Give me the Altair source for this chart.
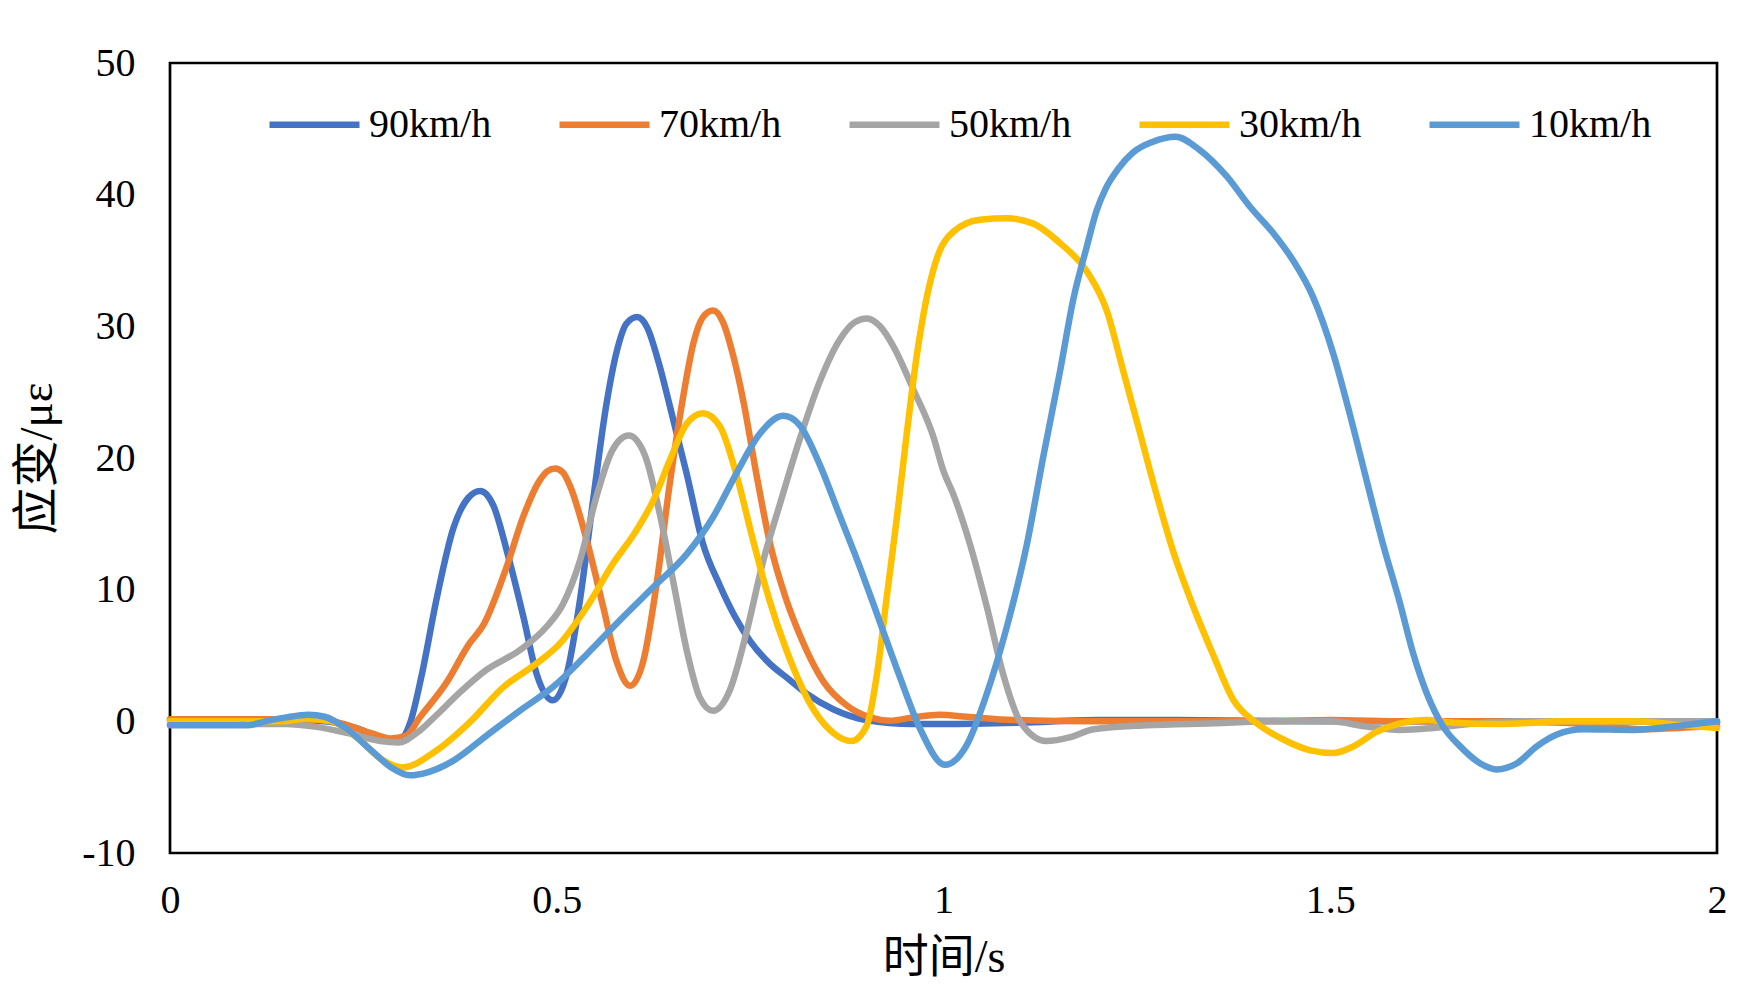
import altair as alt
import pandas as pd

names = ["90km/h", "70km/h", "50km/h", "30km/h", "10km/h"]
colors = ["#4472C4", "#ED7D31", "#A5A5A5", "#FFC000", "#5B9BD5"]

t90 = [0, 0.05, 0.1, 0.15, 0.2, 0.24, 0.27, 0.29, 0.30, 0.31, 0.325, 0.345, 0.366, 0.386, 0.401,
       0.418, 0.437, 0.457, 0.474, 0.495, 0.513, 0.530, 0.547, 0.564, 0.578, 0.59, 0.604, 0.617,
       0.632, 0.646, 0.668, 0.689, 0.711, 0.73, 0.75, 0.775, 0.80, 0.823, 0.858, 0.9, 0.96, 1.0,
       1.1, 1.2, 1.3, 1.4, 1.5, 1.6, 1.7, 1.8, 1.9, 2.0]
v90 = [0.1, 0.1, 0.1, 0.1, 0.0, -0.5, -1.2, -1.5, -1.3, -0.2, 3.4, 9.4, 14.6, 17.0, 17.5,
       16.4, 12.6, 7.9, 3.6, 1.6, 3.6, 9.2, 16.8, 24.0, 28.2, 30.2, 30.7, 29.9,
       27.2, 24.0, 18.8, 13.5, 10.3, 8.0, 6.1, 4.4, 3.2, 2.1, 0.9, 0.1, -0.2, -0.2,
       -0.1, 0.1, 0.1, 0.05, 0.0, 0.0, 0.0, 0.0, 0.0, -0.1]

t70 = [0, 0.1, 0.15, 0.2, 0.23, 0.26, 0.285, 0.305, 0.323, 0.357, 0.387, 0.405, 0.435, 0.457,
       0.478, 0.488, 0.498, 0.508, 0.517, 0.539, 0.560, 0.577, 0.595, 0.612, 0.629, 0.646, 0.663,
       0.677, 0.689, 0.702, 0.715, 0.728, 0.741, 0.758, 0.775, 0.797, 0.814, 0.845, 0.875, 0.905,
       0.931, 0.961, 0.995, 1.03, 1.09, 1.2, 1.3, 1.4, 1.5, 1.6, 1.7, 1.8, 1.85, 1.9, 1.95, 2.0]
v70 = [0.15, 0.15, 0.15, 0.1, -0.3, -0.9, -1.3, -1.1, 0.3, 2.9, 5.9, 7.3, 11.7, 15.6,
       18.3, 19.0, 19.2, 18.9, 17.9, 13.7, 8.7, 4.6, 2.7, 4.6, 10.4, 18.0, 24.5,
       28.8, 30.7, 31.2, 30.3, 27.8, 24.4, 18.8, 13.7, 9.2, 6.6, 3.0, 1.2, 0.3,
       0.05, 0.3, 0.5, 0.35, 0.1, 0.0, 0.0, 0.0, 0.1, 0.0, 0.0, -0.1, -0.3, -0.6, -0.5, -0.3]

t50 = [0, 0.1, 0.15, 0.187, 0.23, 0.272, 0.295, 0.323, 0.345, 0.373, 0.409, 0.452, 0.487, 0.508,
       0.530, 0.551, 0.572, 0.593, 0.614, 0.633, 0.651, 0.668, 0.685, 0.702, 0.724, 0.745, 0.767,
       0.788, 0.814, 0.840, 0.866, 0.885, 0.901, 0.918, 0.935, 0.961, 0.987, 1.0, 1.013, 1.034,
       1.056, 1.077, 1.099, 1.133, 1.164, 1.194, 1.263, 1.35, 1.42, 1.5, 1.547, 1.59, 1.633, 1.68,
       1.75, 1.85, 1.95, 2.0]
v50 = [-0.2, -0.2, -0.2, -0.4, -0.9, -1.5, -1.6, -0.7, 0.5, 2.1, 3.9, 5.4, 7.2, 8.9,
       12.2, 17.0, 20.6, 21.7, 20.2, 15.8, 10.5, 5.4, 1.8, 0.8, 2.4, 6.7, 12.2,
       16.4, 21.4, 25.8, 29.0, 30.3, 30.6, 30.0, 28.5, 25.2, 21.6, 19.0, 17.2, 13.5,
       8.7, 3.6, 0.0, -1.5, -1.2, -0.6, -0.3, -0.15, 0.0, 0.0, -0.4, -0.65, -0.5, -0.2,
       0.0, 0.0, 0.0, 0.0]

t30 = [0, 0.1, 0.144, 0.175, 0.209, 0.243, 0.274, 0.30, 0.345, 0.387, 0.431, 0.474, 0.504, 0.539,
       0.573, 0.603, 0.625, 0.646, 0.668, 0.689, 0.711, 0.732, 0.754, 0.775, 0.797, 0.832, 0.858,
       0.881, 0.901, 0.914, 0.927, 0.94, 0.952, 0.965, 0.978, 0.991, 1.013, 1.047, 1.082, 1.116,
       1.151, 1.185, 1.211, 1.232, 1.254, 1.276, 1.297, 1.323, 1.349, 1.375, 1.405, 1.44, 1.474,
       1.504, 1.53, 1.56, 1.59, 1.625, 1.659, 1.719, 1.806, 1.892, 1.957, 2.0]
v30 = [0.0, 0.0, 0.0, 0.2, 0.0, -1.3, -2.9, -3.5, -2.2, -0.1, 2.6, 4.4, 5.9, 8.7,
       12.0, 14.5, 16.8, 19.8, 22.6, 23.4, 22.4, 18.8, 13.7, 9.2, 5.4, 0.9, -0.9,
       -1.5, -0.3, 3.6, 9.6, 15.6, 21.6, 27.6, 32.1, 35.1, 37.2, 38.1, 38.2, 37.8,
       36.3, 34.2, 31.2, 26.7, 21.9, 17.1, 12.9, 8.7, 5.0, 1.6, -0.15, -1.4, -2.2,
       -2.4, -1.9, -0.8, -0.15, 0.1, -0.1, -0.2, 0.0, 0.0, -0.3, -0.5]

t10 = [0, 0.05, 0.1, 0.123, 0.15, 0.179, 0.2, 0.23, 0.26, 0.286, 0.31, 0.334, 0.366, 0.409, 0.452,
       0.495, 0.539, 0.582, 0.625, 0.668, 0.702, 0.732, 0.762, 0.793, 0.814, 0.84, 0.866, 0.892,
       0.918, 0.944, 0.97, 1.002, 1.03, 1.056, 1.082, 1.108, 1.129, 1.151, 1.168, 1.185, 1.198,
       1.21, 1.225, 1.245, 1.27, 1.30, 1.331, 1.366, 1.396, 1.426, 1.452, 1.478, 1.504, 1.525,
       1.547, 1.568, 1.590, 1.607, 1.625, 1.646, 1.668, 1.694, 1.715, 1.741, 1.767, 1.793, 1.827,
       1.892, 1.957, 2.0]
v10 = [-0.3, -0.3, -0.3, 0.0, 0.3, 0.5, 0.35, -0.65, -2.2, -3.5, -4.1, -3.85, -3.0, -1.1, 0.8,
       2.6, 5.1, 7.7, 10.2, 12.7, 15.5, 18.8, 21.8, 23.2, 22.5, 19.5, 15.6, 11.7,
       7.5, 3.3, -0.6, -3.3, -1.8, 2.1, 7.2, 13.5, 20.1, 26.7, 32.1, 36.0, 38.8,
       40.5, 41.9, 43.2, 44.0, 44.4, 43.4, 41.4, 39.1, 37.1, 35.0, 32.2, 27.9, 23.4,
       18.3, 13.5, 9.0, 5.2, 2.1, -0.4, -1.9, -3.2, -3.65, -3.2, -1.9, -1.0, -0.6,
       -0.65, -0.3, 0.0]

series_t = [t90, t70, t50, t30, t10]
series_v = [v90, v70, v50, v30, v10]

rows = []
for name, ts, vs in zip(names, series_t, series_v):
    for t, v in zip(ts, vs):
        rows.append({"series": name, "t": t, "v": v})
df = pd.DataFrame(rows)

x_ticks = [0, 0.5, 1, 1.5, 2]
y_ticks = [-10, 0, 10, 20, 30, 40, 50]

FONT = "Liberation Serif, Times New Roman, serif"
TFONT = "Liberation Serif, 'Noto Sans CJK SC', serif"

chart = alt.Chart(df).mark_line(
    interpolate="monotone", strokeWidth=6.5, strokeCap="round", strokeJoin="round"
).encode(
    x=alt.X("t:Q", scale=alt.Scale(domain=[0, 2], nice=False),
            axis=alt.Axis(values=x_ticks, title="时间/s", labelExpr="'' + datum.value",
                          grid=False, ticks=False, tickSize=0, domain=False, labelFlush=False,
                          labelFont=FONT, labelFontSize=40, labelColor="black",
                          labelPadding=47, labelBaseline="middle", labelFontWeight="normal",
                          titleFont=TFONT, titleFontSize=46, titleColor="black",
                          titleFontWeight="normal", titleY=104, titleBaseline="middle")),
    y=alt.Y("v:Q", scale=alt.Scale(domain=[-10, 50], nice=False, zero=False),
            axis=alt.Axis(values=y_ticks, title="应变/με", labelExpr="'' + datum.value",
                          grid=False, ticks=False, tickSize=0, domain=False, labelFlush=False,
                          labelFont=FONT, labelFontSize=40, labelColor="black",
                          labelPadding=35, labelFontWeight="normal",
                          titleFont=TFONT, titleFontSize=47, titleColor="black",
                          titleFontWeight="normal", titleX=-133, titleY=395,
                          titleAngle=270, titleAlign="center", titleBaseline="middle")),
    color=alt.Color("series:N", sort=names,
                    scale=alt.Scale(domain=names, range=colors),
                    legend=alt.Legend(title=None, orient="none", direction="horizontal",
                                      columns=5, legendX=96, legendY=13,
                                      symbolType="stroke", symbolSize=8100,
                                      symbolStrokeWidth=6.5, labelFont=FONT,
                                      labelFontSize=40, labelColor="black",
                                      labelOffset=6, columnPadding=54,
                                      padding=0)),
).properties(
    width=1547, height=790,
    background="white",
    autosize=alt.AutoSizeParams(type="none"),
    padding={"left": 162, "top": 55, "right": 34, "bottom": 130},
).configure_view(
    stroke="black", strokeWidth=2.7
)

chart.save("out.html", embed_options={"renderer": "svg", "actions": False})
